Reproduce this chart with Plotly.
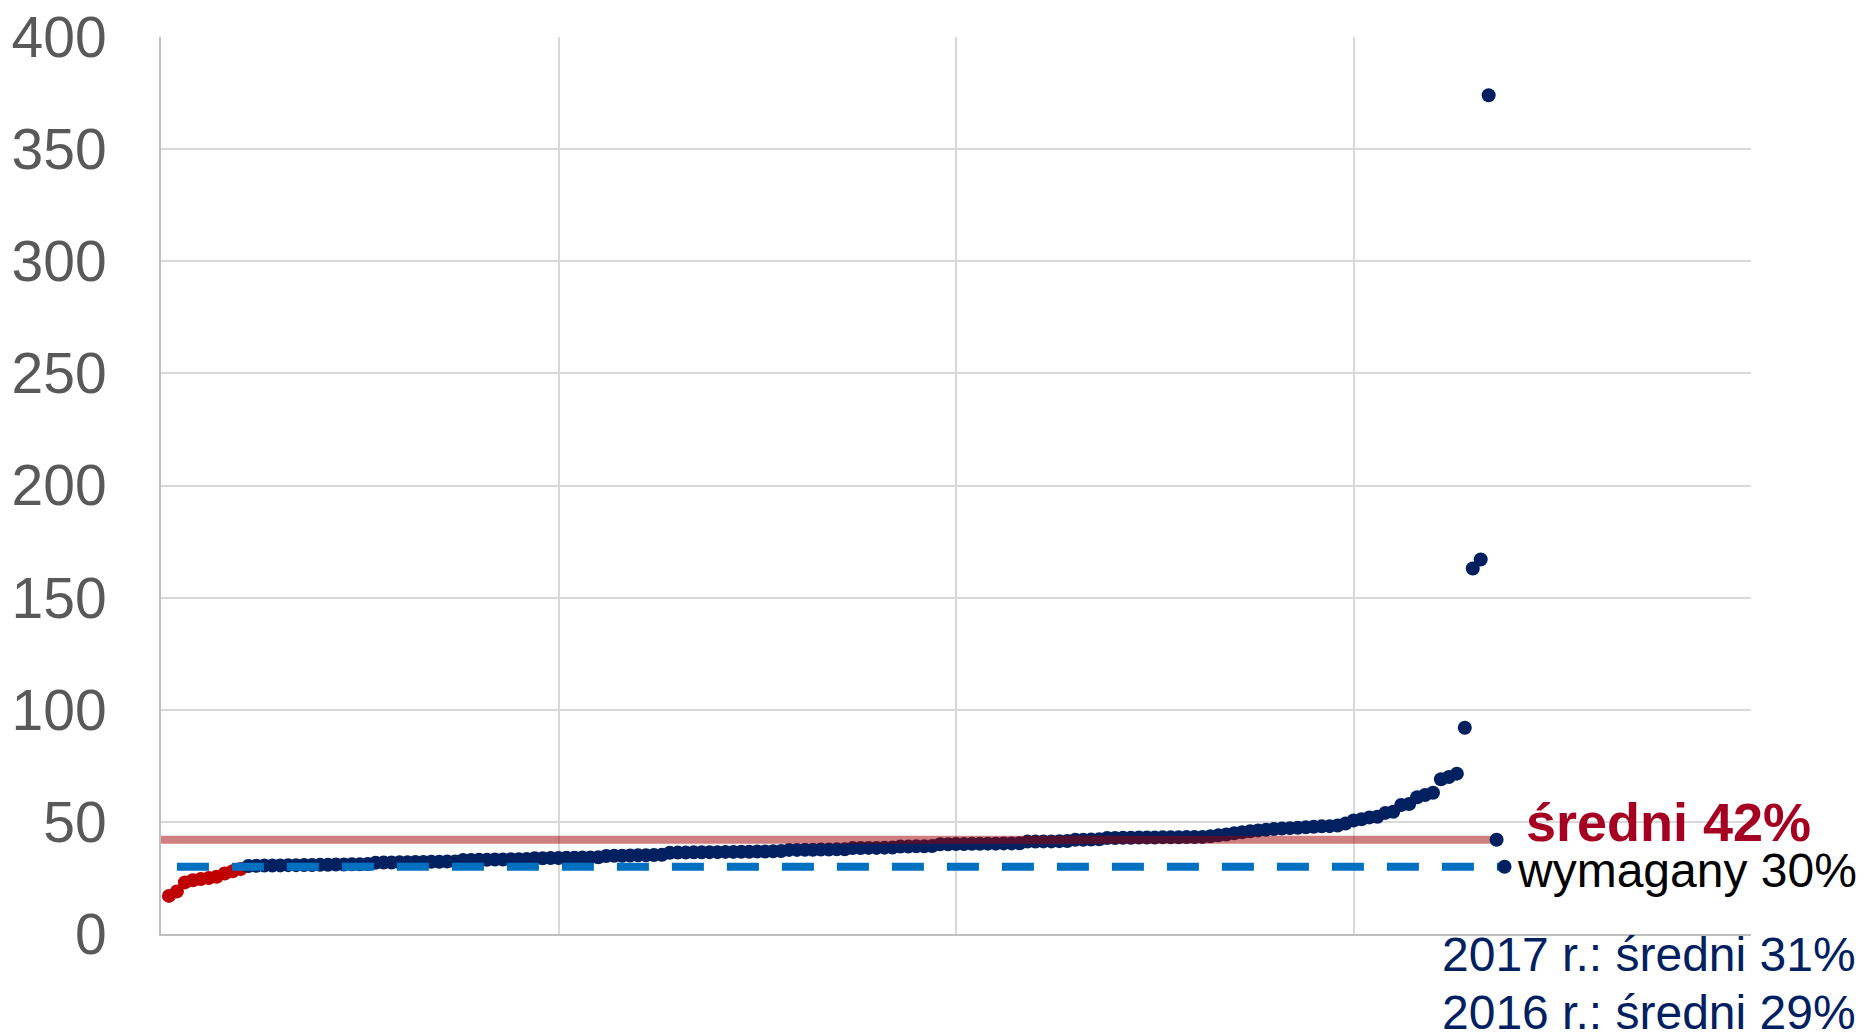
import plotly.graph_objects as go

# --- data (sorted values, one point per entity) ---
values = [
    17, 19, 23, 24, 24.5, 25, 25.5, 27, 28, 29,
    30.3, 30.4, 30.5, 30.5, 30.6, 30.7, 30.7, 30.8, 30.8, 30.9, 30.9, 31.0, 31.0, 31.1, 31.1, 31.2,
    31.8, 31.9, 31.9, 32.0, 32.0, 32.1, 32.1, 32.2, 32.2, 32.3, 32.3,
    33.0, 33.0, 33.1, 33.1, 33.2, 33.2, 33.3, 33.3, 33.4,
    33.8, 33.8, 33.9, 33.9, 34.0, 34.0, 34.1, 34.1, 34.2,
    34.8, 34.9, 34.9, 35.0, 35.1, 35.1, 35.2, 35.3,
    36.2, 36.3, 36.3, 36.4, 36.4, 36.5, 36.5, 36.6, 36.6, 36.7, 36.7, 36.8, 36.8, 36.9, 37.0,
    37.5, 37.5, 37.6, 37.6, 37.7, 37.7, 37.8, 37.8,
    38.3, 38.3, 38.4, 38.4, 38.5, 38.6,
    39.0, 39.0, 39.1, 39.1, 39.2,
    40.0, 40.0, 40.1, 40.1, 40.2, 40.2, 40.3, 40.3, 40.4, 40.4, 40.5,
    41.2, 41.2, 41.3, 41.3, 41.4, 41.5,
    42.0, 42.0, 42.1, 42.2,
    42.8, 42.8, 42.9, 42.9, 43.0, 43.0, 43.0, 43.1, 43.1, 43.1, 43.2, 43.2, 43.3,
    43.6, 44.0, 44.4, 44.9, 45.4, 45.8, 46.2, 46.5, 46.8, 47.0, 47.2, 47.4, 47.6, 47.8, 48.0, 48.1,
    48.4, 49.3, 50.6, 51.2, 52.0, 52.3, 54.0, 54.5, 57.5, 58.0, 61.0, 62.0, 63.0, 69.0, 70.0, 71.5,
    92.0, 163.0, 167.0, 374.0,
]
positions = list(range(1, len(values) + 1))

average_value = 42
average_x = [0, 168]
required_value = 30
required_x = [2, 169]

label_average = "<b>średni 42%</b>"
label_required = "wymagany 30%"
label_2017 = "2017 r.: średni 31%"
label_2016 = "2016 r.: średni 29%"

y_ticks = [0, 50, 100, 150, 200, 250, 300, 350, 400]
x_ticks = [0, 50, 100, 150, 200]

NAVY = "#002060"
RED = "#C00000"
FONT = "Liberation Sans, Arial"

colors = [RED if v < required_value else NAVY for v in values]

fig = go.Figure()
fig.add_trace(go.Scatter(
    x=positions, y=values, mode="markers",
    marker=dict(color=colors, size=14, line=dict(width=0)),
    hoverinfo="y", showlegend=False,
))
fig.add_trace(go.Scatter(
    x=average_x, y=[average_value] * len(average_x), mode="lines+markers",
    line=dict(color="rgba(160,0,0,0.5)", width=8),
    marker=dict(size=[0, 14], color=NAVY, opacity=1, line=dict(width=0)),
    showlegend=False, hoverinfo="skip",
))
fig.add_trace(go.Scatter(
    x=required_x, y=[required_value] * len(required_x), mode="lines+markers",
    line=dict(color="#0070C0", width=8, dash="32px,23px"),
    marker=dict(size=[0, 14], color=NAVY, opacity=1, line=dict(width=0)),
    showlegend=False, hoverinfo="skip",
))

fig.add_annotation(x=1.0390, y=0.125, xref="paper", yref="paper", text=label_average,
                   showarrow=False, xanchor="right", yanchor="middle",
                   font=dict(family=FONT, size=54, color="#A50021"))
fig.add_annotation(x=0.8516, y=0.07125, xref="paper", yref="paper", text=label_required,
                   showarrow=False, xanchor="left", yanchor="middle",
                   font=dict(family=FONT, size=48, color="#000000"))
fig.add_annotation(x=1.0673, y=-0.0234, xref="paper", yref="paper", text=label_2017,
                   showarrow=False, xanchor="right", yanchor="middle",
                   font=dict(family=FONT, size=48, color=NAVY))
fig.add_annotation(x=1.0673, y=-0.087, xref="paper", yref="paper", text=label_2016,
                   showarrow=False, xanchor="right", yanchor="middle",
                   font=dict(family=FONT, size=48, color=NAVY))

# page body adds an 8px margin, so the figure is 8px smaller and margins compensate
fig.update_layout(
    width=1860, height=1025,
    margin=dict(l=153, r=117, t=29, b=99, autoexpand=False),
    paper_bgcolor="white", plot_bgcolor="white",
    font=dict(family=FONT, color="#595959"),
)
fig.update_xaxes(
    range=[0, 200], tickvals=x_ticks, showticklabels=False,
    showgrid=True, gridcolor="#D9D9D9", gridwidth=2,
    showline=True, linecolor="#BFBFBF", linewidth=2,
    zeroline=False, ticks="", automargin=False,
)
fig.update_yaxes(
    range=[0, 400], tickvals=y_ticks,
    showgrid=True, gridcolor="#D9D9D9", gridwidth=2,
    showline=True, linecolor="#BFBFBF", linewidth=2,
    zeroline=False, ticks="", ticklabelstandoff=41,
    automargin=False, ticklabeloverflow="allow",
    tickfont=dict(family=FONT, size=57, color="#595959"),
)

fig.write_html("out.html")
